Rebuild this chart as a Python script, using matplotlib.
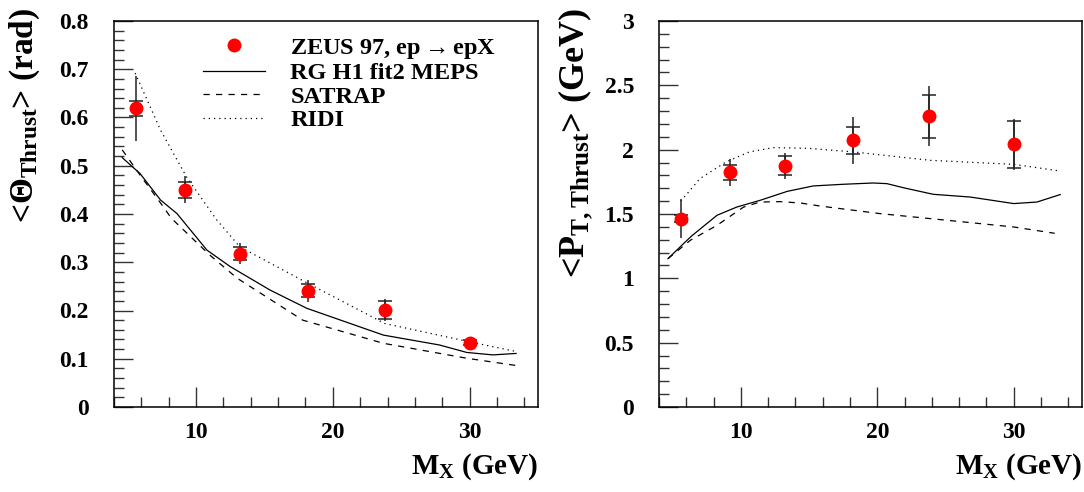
import numpy as np
import matplotlib
matplotlib.use("Agg")
import matplotlib.pyplot as plt
from matplotlib.lines import Line2D
from matplotlib.legend_handler import HandlerLine2D
from matplotlib.ticker import MultipleLocator, FuncFormatter

# ---- measured means vs. hadronic mass M_X ----
mx_data = [5.6, 9.2, 13.2, 18.2, 23.8, 30.0]

theta_data = [0.619, 0.450, 0.318, 0.241, 0.201, 0.133]
theta_stat = [0.016, 0.016, 0.014, 0.014, 0.018, 0.005]
theta_tot = [0.067, 0.028, 0.021, 0.023, 0.022, 0.007]

pt_data = [1.464, 1.824, 1.876, 2.073, 2.259, 2.042]
pt_stat = [0.030, 0.059, 0.073, 0.107, 0.165, 0.181]
pt_tot = [0.149, 0.107, 0.101, 0.183, 0.233, 0.200]

# ---- model predictions: <Theta_Thrust> ----
rg_theta_x = [4.6, 5.3, 5.9, 7.4, 8.6, 10.8, 12.5, 15.4, 18.1, 23.7, 27.8, 29.8, 31.7, 33.4]
rg_theta_y = [0.517, 0.499, 0.484, 0.429, 0.401, 0.325, 0.291, 0.2425, 0.2045, 0.149, 0.1285, 0.113, 0.108, 0.111]

sat_theta_x = [4.6, 5.9, 7.5, 8.2, 11.0, 13.0, 17.8, 23.7, 29.8, 33.4]
sat_theta_y = [0.533, 0.481, 0.419, 0.391, 0.315, 0.267, 0.180, 0.132, 0.101, 0.086]

ridi_theta_x = [5.55, 7.4, 9.3, 11.5, 13.2, 18.2, 23.8, 30.0, 33.4]
ridi_theta_y = [0.692, 0.574, 0.477, 0.388, 0.332, 0.256, 0.173, 0.135, 0.115]

# ---- model predictions: <P_T,Thrust> ----
rg_pt_x = [4.66, 5.8, 6.4, 8.25, 9.7, 11.4, 13.4, 15.3, 17.5, 19.7, 20.7, 22.0, 24.1, 26.8, 30.0, 31.7, 33.4]
rg_pt_y = [1.153, 1.27, 1.33, 1.49, 1.554, 1.606, 1.676, 1.718, 1.731, 1.741, 1.736, 1.702, 1.653, 1.632, 1.581, 1.593, 1.651]

sat_pt_x = [4.66, 6.3, 8.25, 10.2, 11.4, 12.9, 14.4, 15.8, 20.2, 25.6, 30.0, 33.0]
sat_pt_y = [1.153, 1.296, 1.412, 1.554, 1.593, 1.596, 1.585, 1.562, 1.503, 1.446, 1.399, 1.350]

ridi_pt_x = [5.6, 7.0, 8.9, 10.6, 12.4, 15.0, 18.3, 23.9, 30.0, 33.4]
ridi_pt_y = [1.600, 1.775, 1.904, 1.982, 2.016, 2.010, 1.982, 1.917, 1.886, 1.834]

legend_labels = [r"ZEUS 97, ep$\rightarrow$epX", "RG H1 fit2 MEPS", "SATRAP", "RIDI"]

# ---- styling ----
SERIF = "Liberation Serif"
plt.rcParams["font.family"] = [SERIF, "DejaVu Serif"]
plt.rcParams["font.weight"] = "bold"
plt.rcParams["mathtext.fontset"] = "custom"
plt.rcParams["mathtext.rm"] = SERIF + ":bold"
plt.rcParams["mathtext.it"] = SERIF + ":bold"
plt.rcParams["mathtext.bf"] = SERIF + ":bold"
plt.rcParams["mathtext.sf"] = SERIF + ":bold"

LW = 0.9
DASHED = (0, (5, 5))
DOTTED = (0, (1, 3.2))
RED = "#ff0000"

W, H = 1084, 492
fig = plt.figure(figsize=(W / 100, H / 100), dpi=100)


def px_axes(x0, y0, x1, y1):
    return fig.add_axes([x0 / W, 1 - y1 / H, (x1 - x0) / W, (y1 - y0) / H])


ax1 = px_axes(114, 21, 538, 407)
ax2 = px_axes(659, 21, 1082, 407)


def style_axes(ax, ylim, ymajor, yminor):
    ax.set_xlim(4, 35)
    ax.set_ylim(*ylim)
    ax.xaxis.set_major_locator(MultipleLocator(10))
    ax.xaxis.set_minor_locator(MultipleLocator(2))
    ax.yaxis.set_major_locator(MultipleLocator(ymajor))
    ax.yaxis.set_minor_locator(MultipleLocator(yminor))
    ax.tick_params(which="both", direction="in", top=False, right=False,
                   color="#333333", width=1.0, labelsize=17)
    ax.tick_params(axis="x", which="major", length=14.5, pad=10.5)
    ax.tick_params(axis="x", which="minor", length=7)
    ax.tick_params(axis="y", which="major", length=13.5, pad=18)
    ax.tick_params(axis="y", which="minor", length=7)
    for sp in ax.spines.values():
        sp.set_linewidth(1.1)
        sp.set_color("black")
    ax.text(1.0, -0.172, r"M$_{\mathrm{X}}$ (GeV)", transform=ax.transAxes,
            ha="right", va="baseline", fontsize=21, fontweight="bold")


style_axes(ax1, (0, 0.8), 0.1, 0.02)
style_axes(ax2, (0, 3.0), 0.5, 0.1)

ax1.yaxis.set_major_formatter(FuncFormatter(
    lambda v, p: "0" if abs(v) < 1e-9 else f"{v:.1f}"))
ax2.yaxis.set_major_formatter(FuncFormatter(lambda v, p: f"{v:g}"))


def draw_panel(ax, y, stat, tot, rgx, rgy, sx, sy, rx, ry):
    ax.plot(rgx, rgy, color="black", lw=LW, ls="-", zorder=2)
    ax.plot(sx, sy, color="black", lw=LW, ls=DASHED, zorder=2)
    ax.plot(rx, ry, color="black", lw=LW, ls=DOTTED, zorder=2)
    ax.errorbar(mx_data, y, yerr=tot, fmt="none", ecolor="#222222",
                elinewidth=1.1, capsize=0, zorder=3)
    ax.errorbar(mx_data, y, yerr=stat, fmt="none", ecolor="#222222",
                elinewidth=1.1, capsize=5.2, capthick=1.1, zorder=3)
    ax.plot(mx_data, y, ls="none", marker="o", ms=9, color=RED,
            mec=RED, zorder=4)


draw_panel(ax1, theta_data, theta_stat, theta_tot,
           rg_theta_x, rg_theta_y, sat_theta_x, sat_theta_y,
           ridi_theta_x, ridi_theta_y)
draw_panel(ax2, pt_data, pt_stat, pt_tot,
           rg_pt_x, rg_pt_y, sat_pt_x, sat_pt_y,
           ridi_pt_x, ridi_pt_y)

# y-axis titles, written vertically along the left of each frame
fig.text(24.5 / W, 1 - 8 / H, r"<$\Theta_{\mathrm{Thrust}}$> (rad)",
         rotation=90, ha="center", va="top", fontsize=24, fontweight="bold")
fig.text(576 / W, 1 - 8 / H, r"<P$_{\mathrm{T,Thrust}}$> (GeV)",
         rotation=90, ha="center", va="top", fontsize=26, fontweight="bold")


class MarkerAtEnd(HandlerLine2D):
    """Legend handler that puts a lone marker at the right end of the handle."""

    def get_xdata(self, legend, xdescent, ydescent, width, height, fontsize):
        xdata = np.array([-xdescent, -xdescent + width])
        xmarker = np.array([-xdescent + width - 1.0])
        return xdata, xmarker


h_data = Line2D([], [], ls="none", marker="o", ms=9, color=RED, mec=RED)
h_rg = Line2D([], [], color="black", lw=LW, ls="-")
h_sat = Line2D([], [], color="black", lw=LW, ls=DASHED)
h_ridi = Line2D([], [], color="black", lw=LW, ls=DOTTED)

ax1.legend([h_data, h_rg, h_sat, h_ridi], legend_labels,
           loc="upper left", bbox_to_anchor=(0.2106, 0.959),
           frameon=False, borderpad=0, borderaxespad=0,
           handlelength=2.55, handletextpad=1.03, labelspacing=0.06,
           prop={"family": [SERIF, "DejaVu Serif"], "weight": "bold", "size": 17.5},
           handler_map={h_data: MarkerAtEnd()})

fig.savefig("out.png", dpi=100)
